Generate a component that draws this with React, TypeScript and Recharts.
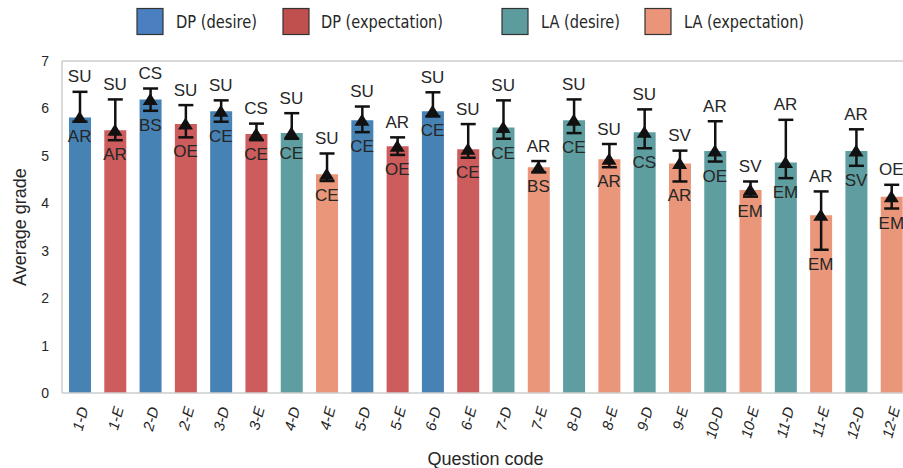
import React from 'react';
import { ComposedChart, Bar, Cell, XAxis, YAxis, ErrorBar, Scatter, ReferenceLine } from 'recharts';

const codes = ['1-D','1-E','2-D','2-E','3-D','3-E','4-D','4-E','5-D','5-E','6-D','6-E','7-D','7-E','8-D','8-E','9-D','9-E','10-D','10-E','11-D','11-E','12-D','12-E'];
const groups = ['DPd','DPe','DPd','DPe','DPd','DPe','LAd','LAe','DPd','DPe','DPd','DPe','LAd','LAe','LAd','LAe','LAd','LAe','LAd','LAe','LAd','LAe','LAd','LAe'];
const means = [5.81,5.54,6.19,5.67,5.94,5.46,5.48,4.61,5.75,5.20,5.94,5.14,5.60,4.76,5.75,4.93,5.50,4.84,5.10,4.28,4.86,3.75,5.10,4.14];
const lows =  [5.72,5.33,5.95,5.39,5.72,5.33,5.36,4.47,5.50,5.02,5.83,4.96,5.36,4.65,5.48,4.76,5.16,4.46,4.88,4.14,4.53,3.02,4.79,3.89];
const highs = [6.35,6.19,6.42,6.07,6.17,5.68,5.90,5.05,6.04,5.39,6.34,5.67,6.17,4.89,6.19,5.25,5.98,5.11,5.73,4.46,5.76,4.25,5.56,4.39];
const topLabels = ['SU','SU','CS','SU','SU','CS','SU','SU','SU','AR','SU','SU','SU','AR','SU','SU','SU','SV','AR','SV','AR','AR','AR','OE'];
const bottomLabels = ['AR','AR','BS','OE','CE','CE','CE','CE','CE','OE','CE','CE','CE','BS','CE','AR','CS','AR','OE','EM','EM','EM','SV','EM'];
const yTicks = [0,1,2,3,4,5,6,7];
const legendKeys = ['DPd','DPe','LAd','LAe'];
const legendNames = ['DP (desire)','DP (expectation)','LA (desire)','LA (expectation)'];

const barColors: Record<string,string> = { DPd: '#4682B4', DPe: '#CD5C5C', LAd: '#5F9EA0', LAe: '#E9967A' };
const legendColors: Record<string,string> = { DPd: '#4a7fc0', DPe: '#c0504d', LAd: '#5c9c9e', LAe: '#ea947a' };

const data = codes.map((code, i) => ({
  code,
  group: groups[i],
  mean: means[i],
  low: lows[i],
  high: highs[i],
  err: [+(means[i] - lows[i]).toFixed(3), +(highs[i] - means[i]).toFixed(3)],
  top: topLabels[i],
  bottom: bottomLabels[i],
}));

const FONT = '"Liberation Sans", Arial, sans-serif';
const TEXT = '#262626';

const XTick = (props: any) => {
  const { x, y, payload } = props;
  const ax = x + 3.5;
  const ay = y + 6;
  return (
    <text x={ax} y={ay} transform={`rotate(-75 ${ax} ${ay})`} textAnchor="end" dominantBaseline="central"
      fontSize={15} fontStyle="italic" fill={TEXT} fontFamily={FONT}>{payload.value}</text>
  );
};

const Triangle = (props: any) => {
  const { cx, cy } = props;
  if (cx == null || cy == null) return null;
  return <polygon points={`${cx},${cy - 6.5} ${cx - 7.5},${cy + 5.5} ${cx + 7.5},${cy + 5.5}`} fill="#111" />;
};

const TopLabel = (props: any) => {
  const { cx, cy, payload } = props;
  return <text x={cx} y={cy - 9.5} textAnchor="middle" fontSize={17} fill={TEXT} fontFamily={FONT}>{payload.top}</text>;
};

const BottomLabel = (props: any) => {
  const { cx, cy, payload } = props;
  return <text x={cx} y={cy + 20} textAnchor="middle" fontSize={17} fill={TEXT} fontFamily={FONT}>{payload.bottom}</text>;
};

const YLabel = (props: any) => {
  const vb = props.viewBox || { x: 12, y: 61, height: 332 };
  const cx = 19.5;
  const cy = vb.y + vb.height / 2;
  return (
    <text x={cx} y={cy} transform={`rotate(-90 ${cx} ${cy})`} textAnchor="middle" dominantBaseline="central"
      fontSize={18} fill={TEXT} fontFamily={FONT}>Average grade</text>
  );
};

const legendPatchX = [137, 283, 502, 645];
const legendTextX = [176, 321, 541, 684];
const legendTextW = [81, 122, 79, 120];

export default function App() {
  return (
    <div style={{ position: 'fixed', left: 0, top: 0, width: 903, height: 468, overflow: 'hidden', background: '#fff' }}>
      <svg width={903} height={50} style={{ position: 'absolute', left: 0, top: 0 }}>
        {legendKeys.map((k, i) => (
          <g key={k}>
            <rect x={legendPatchX[i]} y={8.5} width={26} height={26} fill={legendColors[k]} stroke="#333" strokeWidth={1.2} />
            <text x={legendTextX[i]} y={28} fontSize={18} fill={TEXT} fontFamily='"DejaVu Sans", sans-serif'
              textLength={legendTextW[i]} lengthAdjust="spacingAndGlyphs">{legendNames[i]}</text>
          </g>
        ))}
      </svg>
      <div style={{ position: 'absolute', left: 0, top: 0 }}>
        <ComposedChart width={909} height={468} data={data} margin={{ top: 61, right: 0, left: 12, bottom: 0 }}
          style={{ fontFamily: FONT }}>
          <ReferenceLine y={7} stroke="#cccccc" strokeWidth={1.5} ifOverflow="visible" />
          <XAxis dataKey="code" type="category" height={75} interval={0} tickLine={false}
            axisLine={{ stroke: '#cccccc', strokeWidth: 1.5 }} tick={<XTick />}
            label={{ value: 'Question code', position: 'insideBottom', offset: 3.5, fill: TEXT, fontSize: 18, fontFamily: FONT }} />
          <YAxis type="number" domain={[0, 7]} ticks={yTicks} width={50} tickLine={false} tickSize={6} tickMargin={7}
            axisLine={{ stroke: '#cccccc', strokeWidth: 1.5 }} tick={{ fill: TEXT, fontSize: 14, fontFamily: FONT }}
            label={<YLabel />} />
          <Bar dataKey="mean" barSize={22} isAnimationActive={false}>
            {data.map((d, i) => <Cell key={i} fill={barColors[d.group]} />)}
            <ErrorBar dataKey="err" width={7.5} strokeWidth={2.5} stroke="#111" direction="y" isAnimationActive={false} />
          </Bar>
          <Scatter dataKey="mean" shape={<Triangle />} isAnimationActive={false} />
          <Scatter dataKey="high" shape={<TopLabel />} isAnimationActive={false} />
          <Scatter dataKey="low" shape={<BottomLabel />} isAnimationActive={false} />
        </ComposedChart>
      </div>
    </div>
  );
}
